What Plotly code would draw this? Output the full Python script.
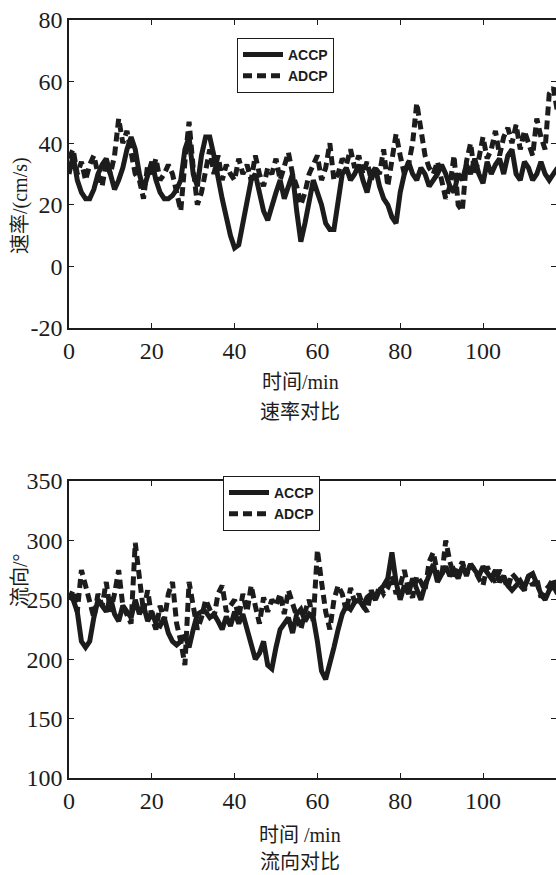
import plotly.graph_objects as go

t = list(range(0, 119))

speed_accp = [30,36,28,24,22,22,25,30,33,35,30,25,28,32,38,42,38,30,25,30,
              34,28,24,22,22,23,25,28,38,42,30,26,36,42,42,36,28,22,16,10,
              6,7,14,22,28,30,24,18,15,20,24,28,22,26,30,18,8,14,22,28,
              24,20,14,12,12,22,30,32,28,30,33,28,24,30,32,26,22,20,16,14,
              24,30,34,30,28,32,30,26,28,30,33,30,26,24,30,28,33,30,35,30,
              27,34,30,33,35,30,36,38,30,28,34,32,28,30,34,30,28,30,32]
speed_adcp = [35,38,30,34,28,33,36,30,26,34,30,36,48,40,44,36,30,28,22,33,
              30,35,28,30,33,30,24,18,34,47,32,20,24,32,38,30,36,28,33,30,
              28,35,30,33,28,36,30,26,32,30,35,28,32,37,30,26,20,24,30,33,
              36,28,32,40,28,30,35,33,38,32,36,30,34,28,32,30,38,26,34,43,
              36,30,33,40,53,44,36,32,30,34,28,22,26,36,20,18,34,40,30,35,
              42,35,38,44,36,42,45,40,46,38,44,40,36,48,42,38,56,58,50]

dir_accp = [255,250,240,215,210,215,235,250,245,240,252,238,232,245,240,235,250,238,245,232,
            240,230,228,235,222,215,212,215,220,210,225,238,240,240,235,238,232,225,236,228,
            240,230,238,225,210,200,205,215,195,192,210,225,230,235,222,238,242,232,238,235,
            215,190,183,195,210,225,238,245,242,248,250,245,252,255,250,258,262,268,290,265,
            250,262,255,268,260,250,262,270,280,265,272,278,270,275,268,278,272,280,275,270,
            278,272,268,275,265,270,262,258,262,266,260,270,272,262,255,250,258,262,255]
dir_adcp = [250,258,240,275,262,248,235,255,245,265,240,255,275,245,238,230,298,270,240,258,
            235,225,245,232,255,265,230,215,195,265,245,225,235,250,242,235,255,262,240,245,
            250,235,255,240,262,245,230,252,240,250,245,255,238,258,248,235,225,240,250,232,
            292,265,240,225,250,262,255,240,260,248,255,245,240,258,250,262,255,260,270,255,
            262,275,258,252,270,265,258,282,290,272,268,300,282,270,275,282,270,280,275,268,
            262,278,270,265,275,268,260,272,268,262,258,270,262,268,252,258,262,268,255]

series_names = ["ACCP", "ADCP"]
x_ticks = [0, 20, 40, 60, 80, 100]
y1_ticks = [-20, 0, 20, 40, 60, 80]
y1_labels = ["-20", "0", "20", "40", "60", "80"]
y2_ticks = [100, 150, 200, 250, 300, 350]

W, H = 556, 875
L = 69
px_per_min = 4.14
xmax = (W - L) / px_per_min

ink = "#1c1c1c"
solid = dict(color=ink, width=5)
dashed = dict(color=ink, width=5, dash="9px,5px")

fig = go.Figure()
fig.add_trace(go.Scatter(x=t, y=speed_accp, mode="lines", name=series_names[0], line=solid,
                         xaxis="x", yaxis="y", legend="legend"))
fig.add_trace(go.Scatter(x=t, y=speed_adcp, mode="lines", name=series_names[1], line=dashed,
                         xaxis="x", yaxis="y", legend="legend"))
fig.add_trace(go.Scatter(x=t, y=dir_accp, mode="lines", name=series_names[0], line=solid,
                         xaxis="x2", yaxis="y2", legend="legend2"))
fig.add_trace(go.Scatter(x=t, y=dir_adcp, mode="lines", name=series_names[1], line=dashed,
                         xaxis="x2", yaxis="y2", legend="legend2"))

serif = "Liberation Serif"
tickfont = dict(family=serif, size=24, color=ink)
axis_common = dict(showline=True, linecolor=ink, linewidth=1.5, mirror="ticks",
                   ticks="inside", ticklen=5, tickcolor=ink, showgrid=False,
                   zeroline=False, tickfont=tickfont, automargin=False)

def py(p):
    return 1 - p / H

legfont = dict(family="Liberation Sans", size=14, color=ink, weight="bold")
fig.update_layout(
    width=W, height=H,
    margin=dict(l=L, r=0, t=0, b=0, autoexpand=False),
    paper_bgcolor="white", plot_bgcolor="white",
    xaxis=dict(domain=[0, 1], range=[0, xmax], tickvals=x_ticks, anchor="y", **axis_common),
    yaxis=dict(domain=[py(328), py(20)], range=[-20, 80], tickvals=y1_ticks, ticktext=y1_labels,
               anchor="x", **axis_common),
    xaxis2=dict(domain=[0, 1], range=[0, xmax], tickvals=x_ticks, anchor="y2", **axis_common),
    yaxis2=dict(domain=[py(778), py(481)], range=[100, 350], tickvals=y2_ticks, anchor="x2", **axis_common),
    legend=dict(x=(237 - L) / (W - L), y=py(38), xanchor="left", yanchor="top",
                bordercolor=ink, borderwidth=1, bgcolor="white", font=legfont,
                tracegroupgap=0, itemwidth=40),
    legend2=dict(x=(223 - L) / (W - L), y=py(476), xanchor="left", yanchor="top",
                 bordercolor=ink, borderwidth=1, bgcolor="white", font=legfont,
                 tracegroupgap=0, itemwidth=40),
    showlegend=True,
)

cjk = "Liberation Serif, Noto Sans CJK SC"
def xpaper(px):
    return (px - L) / (W - L)

annos = [
    dict(text="时间/min", x=xpaper(300), y=py(382)),
    dict(text="速率对比", x=xpaper(300), y=py(412)),
    dict(text="时间 /min", x=xpaper(300), y=py(835)),
    dict(text="流向对比", x=xpaper(300), y=py(862)),
]
for a in annos:
    fig.add_annotation(xref="paper", yref="paper", showarrow=False,
                       font=dict(family=cjk, size=20, color=ink),
                       xanchor="center", yanchor="middle", **a)
for txt, yc in [("速率/(cm/s)", 206), ("流向/°", 580)]:
    fig.add_annotation(xref="paper", yref="paper", showarrow=False, textangle=-90,
                       x=xpaper(20), y=py(yc), text=txt,
                       font=dict(family=cjk, size=20, color=ink),
                       xanchor="center", yanchor="middle")

fig.write_html("out.html")
